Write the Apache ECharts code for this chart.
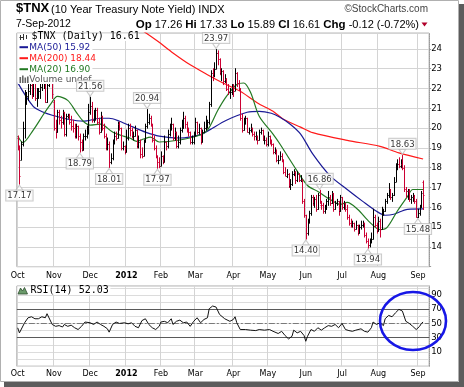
<!DOCTYPE html>
<html><head><meta charset="utf-8">
<script src="https://cdn.jsdelivr.net/npm/echarts@6/dist/echarts.min.js"></script>
<style>html,body{margin:0;padding:0;background:#fff}#c{width:464px;height:387px}</style>
</head><body><div id="c"></div>
<script>
// ---- trading calendar (Oct 3 2011 .. Sep 7 2012) ----
const holidays = ['2011-11-24','2011-12-26','2012-01-02','2012-01-16','2012-02-20','2012-04-06','2012-05-28','2012-07-04','2012-09-03'];
const monthLabels = ['Oct','Nov','Dec','2012','Feb','Mar','Apr','May','Jun','Jul','Aug','Sep'];
const priceTicks = [14,15,16,17,18,19,20,21,22,23,24];
const rsiTicks = [10,30,50,70,90];

// ---- daily OHLC ($TNX x10) ----
const opens = [
 19.5,19.0,18.4,19.2,20.0,21.5,21.6,21.9,22.2,21.7,22.4,21.5,21.8,21.9,22.1,22.3,22.4,21.3,22.2,23.9,22.9,
 21.3,20.0,19.8,20.8,20.4,20.3,20.8,19.7,20.6,20.6,20.3,20.1,20.0,19.6,20.1,19.6,19.3,18.9,19.6,19.6,19.9,
 20.8,21.1,20.4,20.5,20.9,20.3,19.8,20.6,20.0,19.6,19.0,19.2,18.3,18.5,19.3,19.6,19.5,20.2,20.0,19.0,19.1,
 18.8,19.5,20.0,19.9,19.6,19.6,19.9,19.1,19.3,18.7,18.6,19.3,20.1,20.3,20.5,20.2,19.4,19.0,18.6,18.3,
 18.1,18.6,18.3,19.3,19.1,19.7,20.0,20.2,19.5,19.8,19.1,19.3,19.9,20.0,20.5,20.2,19.9,19.8,19.3,19.3,
 19.7,20.3,19.8,20.0,19.3,19.8,20.0,20.3,20.3,21.2,22.8,22.7,23.0,23.8,23.5,22.8,22.9,22.4,22.5,22.0,21.8,21.8,
 22.1,21.9,22.8,22.3,22.0,20.5,19.9,20.3,20.5,19.8,19.9,20.0,19.7,19.6,19.6,19.4,19.8,19.9,19.4,19.4,
 19.2,19.6,19.3,19.2,18.8,18.8,18.4,18.4,18.6,18.4,17.8,17.6,17.7,17.1,17.2,17.7,17.8,17.4,17.7,17.4,17.4,16.3,
 15.6,14.7,15.3,15.7,16.5,16.2,16.4,15.9,16.6,16.1,16.1,15.8,15.9,16.3,16.5,16.2,16.7,15.9,16.2,16.3,15.8,
 16.5,16.0,16.2,15.9,15.5,15.2,15.1,15.2,14.9,15.1,14.7,15.0,15.1,15.2,14.6,14.3,14.1,14.3,14.4,15.5,15.1,
 14.8,15.3,14.9,15.7,15.8,16.3,16.6,16.9,16.5,16.6,17.3,18.1,18.2,18.1,18.2,18.0,16.9,16.8,16.8,16.4,16.5,16.5,16.3,
 15.5,15.7,16.0,17.26];
const highs = [
 19.6,19.1,19.3,20.3,21.9,21.8,22.2,22.6,22.3,22.6,22.5,22.0,22.0,22.3,22.6,22.6,22.4,22.3,24.1,23.9,23.0,
 21.4,20.4,20.9,20.9,20.6,20.9,20.8,20.7,20.7,20.7,20.6,20.4,20.2,20.2,20.1,19.7,19.4,19.7,19.9,20.1,21.2,
 21.56,21.3,20.9,21.0,21.0,20.5,20.8,20.6,20.2,19.7,19.5,19.3,18.7,19.4,19.8,19.8,20.3,20.3,20.0,19.3,19.1,
 19.9,20.2,20.2,20.0,19.8,20.1,19.9,19.6,19.4,19.0,19.4,20.2,20.94,20.7,20.6,20.2,19.6,19.1,18.6,18.5,
 18.8,18.6,19.6,19.3,19.9,20.2,20.5,20.2,20.0,19.8,19.6,20.0,20.4,20.8,20.6,20.3,20.0,19.8,19.6,19.8,
 20.5,20.3,20.2,20.0,19.9,20.3,20.6,20.4,21.3,22.9,23.0,23.3,23.97,23.9,23.5,23.0,22.9,22.7,22.5,22.2,22.0,22.2,
 22.2,23.0,22.8,22.4,22.0,20.7,20.5,20.6,20.5,20.0,20.2,20.0,19.8,19.8,19.6,19.9,20.0,19.9,19.6,19.5,
 19.8,19.6,19.4,19.2,19.0,18.9,18.6,18.8,18.7,18.4,18.0,17.9,17.7,17.4,17.8,17.9,17.8,17.8,17.7,17.6,17.4,16.4,
 15.6,15.4,15.8,16.6,16.6,16.5,16.6,16.7,16.86,16.3,16.2,16.1,16.4,16.8,16.6,16.8,16.7,16.3,16.4,16.3,16.6,
 16.5,16.3,16.2,16.1,15.6,15.4,15.3,15.2,15.3,15.1,15.1,15.3,15.3,15.2,14.7,14.4,14.4,14.7,15.9,15.6,15.2,
 15.5,15.4,16.0,15.9,16.4,16.7,17.2,16.9,16.7,17.5,18.2,18.4,18.5,18.4,18.63,18.1,17.0,16.9,16.9,16.6,16.7,16.6,16.4,
 15.9,16.1,16.8,17.33];
const lows = [
 18.9,17.17,18.4,19.1,19.5,21.2,21.4,21.7,21.5,21.6,21.4,21.1,21.5,21.5,21.9,22.0,21.3,21.3,22.1,23.1,21.5,
 19.9,19.5,19.8,20.2,20.0,20.2,19.6,19.6,20.5,20.2,19.9,19.8,19.5,19.5,19.4,18.79,18.85,18.9,19.4,19.5,19.7,
 20.7,20.3,20.3,20.4,20.2,19.7,19.8,19.9,19.5,18.9,18.9,18.01,18.2,18.4,19.2,19.4,19.5,19.9,18.9,18.9,18.7,
 18.8,19.4,19.6,19.5,19.4,19.6,19.0,19.0,18.5,18.5,18.6,19.3,20.0,20.2,20.1,19.3,18.9,18.5,17.97,18.0,
 18.1,18.2,18.3,18.9,19.0,19.6,19.9,19.4,19.4,19.0,19.0,19.2,19.8,20.0,20.0,19.8,19.6,19.2,19.2,19.2,
 19.6,19.7,19.7,19.2,19.3,19.8,19.9,20.0,20.2,21.1,22.4,22.6,23.0,23.2,22.7,22.4,22.2,22.3,21.9,21.7,21.5,21.7,
 21.6,21.9,22.1,21.9,20.4,19.8,19.9,20.2,19.8,19.7,19.8,19.6,19.4,19.4,19.2,19.4,19.7,19.4,19.2,19.1,
 19.1,19.2,19.1,18.7,18.7,18.3,18.2,18.4,18.3,17.7,17.6,17.5,17.0,16.9,17.1,17.6,17.2,17.3,17.3,17.3,16.2,15.5,
 14.40,14.6,15.2,15.6,16.1,16.0,15.8,15.9,16.2,15.9,15.7,15.7,15.9,16.1,16.1,16.2,15.8,15.9,16.1,15.6,15.8,
 15.9,15.9,15.8,15.4,15.1,15.0,15.0,14.8,14.9,14.6,14.7,14.9,15.0,14.5,14.2,13.94,14.0,14.2,14.4,15.0,14.7,
 14.8,14.5,14.9,15.6,15.8,16.2,16.5,16.4,16.3,16.6,17.3,17.9,18.0,18.0,17.9,16.8,16.5,16.4,16.3,16.2,16.3,16.2,15.5,
 15.48,15.6,16.0,15.89];
const closes = [
 19.0,17.6,19.2,20.0,21.5,21.6,21.9,22.2,21.7,22.5,21.5,21.8,21.9,22.1,22.3,22.4,21.3,22.2,23.9,23.3,21.7,
 20.0,19.8,20.8,20.4,20.3,20.8,19.7,20.6,20.6,20.3,20.1,20.0,19.6,20.1,19.6,19.3,18.9,19.6,19.6,19.9,20.8,
 21.1,20.4,20.5,20.9,20.3,19.8,20.6,20.0,19.6,19.0,19.2,18.3,18.5,19.3,19.6,19.5,20.2,20.0,19.0,19.1,18.8,
 19.5,20.0,19.9,19.6,19.6,19.9,19.1,19.3,18.7,18.6,19.3,20.1,20.3,20.5,20.2,19.4,19.0,18.6,18.3,18.1,
 18.6,18.3,19.3,19.1,19.7,20.0,20.2,19.5,19.8,19.1,19.3,19.9,20.0,20.5,20.2,19.9,19.8,19.3,19.3,19.7,
 20.3,19.8,20.0,19.3,19.8,20.0,20.3,20.3,21.2,22.8,22.7,23.0,23.8,23.5,22.8,22.9,22.4,22.5,22.0,21.8,21.8,22.1,
 21.9,22.8,22.3,22.0,20.5,19.9,20.3,20.5,19.8,19.9,20.0,19.7,19.6,19.6,19.4,19.8,19.9,19.4,19.4,19.2,
 19.6,19.3,19.2,18.8,18.8,18.4,18.4,18.6,18.4,17.8,17.6,17.7,17.1,17.2,17.7,17.8,17.4,17.7,17.4,17.4,16.3,15.6,
 14.7,15.3,15.7,16.5,16.2,16.4,15.9,16.6,16.3,16.1,15.8,15.9,16.3,16.5,16.2,16.7,15.9,16.2,16.3,15.8,16.5,
 16.0,16.2,15.9,15.5,15.2,15.1,15.2,14.9,15.1,14.7,15.0,15.1,15.2,14.6,14.3,14.1,14.3,14.4,15.5,15.1,14.8,
 15.3,14.9,15.7,15.8,16.3,16.6,16.9,16.5,16.6,17.3,18.1,18.2,18.1,18.2,18.0,16.9,16.8,16.8,16.4,16.5,16.5,16.3,15.5,
 15.7,16.0,16.73,16.61];
const prevClose = 19.2;

// ---- moving averages: [day index, value] ----
const ma50 = [[0,22.3],[9,21.1],[15,20.8],[20,20.65],[29,20.45],[38,20.35],[48,20.5],[53,20.5],[59,20.35],[67,20.05],[74,19.8],[82,19.6],[94,19.5],[106,19.67],[111,19.9],[121,20.4],[133,20.8],[140,20.85],[147,20.75],[152,20.55],[158,20.2],[164,19.7],[171,18.7],[181,17.6],[191,16.9],[200,16.3],[208,15.8],[213,15.6],[218,15.65],[226,15.9],[235,15.92]];
const ma200 = [[55,25.9],[65,25.3],[71,25.0],[81,24.4],[90,23.8],[100,23.2],[110,22.7],[119,22.28],[129,21.86],[139,21.27],[148,20.85],[154,20.45],[164,20.05],[171,19.77],[191,19.38],[210,19.08],[221,18.75],[235,18.44]];
const ma20 = [[0,19.6],[3,19.27],[9,19.9],[15,20.7],[19,21.2],[23,21.6],[29,21.4],[34,20.8],[38,20.35],[42,20.15],[48,20.2],[55,19.8],[61,19.6],[65,19.5],[69,19.33],[73,19.45],[77,19.55],[82,19.3],[94,19.4],[104,19.6],[110,19.9],[116,20.9],[121,21.6],[127,22.2],[131,22.28],[135,21.8],[140,20.6],[148,19.7],[152,19.2],[160,18.1],[168,17.1],[174,16.8],[181,16.4],[187,16.15],[191,16.25],[197,15.9],[204,15.25],[210,14.87],[214,14.97],[220,15.8],[226,16.55],[229,16.9],[235,16.9]];

// ---- RSI(14) ----
const rsiIdx = [0,1,2,4,6,8,10,12,14,16,17,18,20,22,24,26,27,29,31,33,35,37,39,40,42,44,46,48,50,52,53,55,57,59,62,64,66,68,70,72,74,76,78,80,82,83,85,87,89,90,92,94,96,98,100,102,104,106,108,110,111,113,115,117,120,123,125,126,127,129,132,135,138,140,143,146,148,151,153,155,157,159,160,162,164,166,167,168,170,172,174,176,178,180,182,184,186,188,190,192,194,196,197,199,201,203,205,206,208,210,212,213,215,217,219,221,223,224,225,227,229,230,231,232,233,234,235];
const rsiVal = [43.9,36.8,39,51,58,59.4,56.6,56.6,59.4,58,63.7,64,48.6,46,47,45,48.6,46,47.6,44,41.5,46,52,54,51,48.6,52,48.6,46,42.5,37.8,48.6,52,50,51,49.5,51,46,44,54,56.6,48.6,44,41.5,46,52,53,51,56.6,48.6,53,54.7,51,52,46,53,58,51,55.6,58,70.7,74.5,73,62.7,56.6,53,55.6,59.4,51,41.5,41.5,40.6,40,41.5,40.6,41.5,39,35.9,39,33,28.3,32,40.6,36.8,39,33,25,32,41.5,39,44,40.6,44,47,46,48.6,44,50,41.5,40,39,40.6,39,42.5,39,37.8,44,52,48.6,51,47,56.6,61.3,59.4,65,69.8,67.4,65,53,50,46,48.6,41.5,44,46,50,52.03];

// ---- labelled extremes ----
const peakIdx = [42,75,115,175,223];
const peakVal = [21.56,20.94,23.97,16.86,18.63];
const troughIdx = [1,36,53,81,167,203,232];
const troughVal = [17.17,18.79,18.01,17.97,14.40,13.94,15.48];

// ---------------------------------------------------------------
function buildDates(){
  const out=[]; const d=new Date(Date.UTC(2011,9,3)); const end=Date.UTC(2012,8,7);
  while(d.getTime()<=end){
    const wd=d.getUTCDay(); const s=d.toISOString().slice(0,10);
    if(wd!==0&&wd!==6&&holidays.indexOf(s)<0) out.push(s);
    d.setUTCDate(d.getUTCDate()+1);
  }
  return out;
}
const dates = buildDates();
const cats = dates.concat(['_a','_b','_c']);
const monthStart = {}; let mi = 0;
dates.forEach((s,i)=>{ if(i===0 || s.slice(5,7)!==dates[i-1].slice(5,7)) { monthStart[i]=monthLabels[mi++]; } });
const isStart = (i)=> monthStart[i]!==undefined;

const RED='#cc0033', BLACK='#000000';
const barData = closes.map((c,i)=>[i, opens[i], highs[i], lows[i], c, c < (i? closes[i-1]:prevClose) ? 1:0]);

const FONT='DejaVu Sans';
const L=16.84, W=412.3;

function xAxisCfg(gi){
  return {type:'category', gridIndex:gi, data:cats, boundaryGap:true,
    axisLine:{show:false}, axisTick:{show:false},
    axisLabel:{show:true, interval:(i)=>isStart(i), margin: gi===0?5:4,
      formatter:(v,i)=>{const t=monthStart[i]; if(t===undefined) return ''; return t==='2012'?'{b|2012}':t;},
      fontFamily:FONT, fontSize:8, color:'#000', rich:{b:{fontFamily:FONT,fontSize:8,fontWeight:'bold',color:'#000'}}},
    splitLine:{show:true, interval:(i)=>isStart(i), lineStyle:{color:'#d4d4d4',width:1}}};
}

const annLabel = {show:true, fontFamily:FONT, fontSize:8.5, color:'#000', backgroundColor:'#fff', borderColor:'#bdbdbd', borderWidth:1, padding:[1,1,0,1], lineHeight:9};

const option = {
  animation:false,
  grid:[
    {left:L, top:33.1, width:W, height:233.6, show:true, borderColor:'#a8a8a8', borderWidth:1, containLabel:false, outerBoundsMode:'none'},
    {left:L, top:286, width:W, height:80.2, show:true, borderColor:'#a8a8a8', borderWidth:1, containLabel:false, outerBoundsMode:'none'}
  ],
  xAxis:[xAxisCfg(0), xAxisCfg(1)],
  yAxis:[
    {type:'value', gridIndex:0, position:'right', min:13, max:24.8, interval:1,
     axisLine:{show:true, lineStyle:{color:'#9a9a9a', type:'dotted'}},
     axisTick:{show:true, length:2, lineStyle:{color:'#9a9a9a'}},
     axisLabel:{margin:2, fontFamily:FONT, fontSize:8.5, color:'#000', showMaxLabel:false,
       formatter:(v)=> priceTicks.indexOf(Math.round(v))>=0 && Math.abs(v-Math.round(v))<1e-6 ? String(Math.round(v)) : ''},
     splitLine:{show:true, lineStyle:{color:'#d4d4d4',width:1}}},
    {type:'value', gridIndex:1, position:'right', min:-10, max:102.6, interval:10,
     axisLine:{show:true, lineStyle:{color:'#9a9a9a', type:'dotted'}},
     axisTick:{show:false},
     axisLabel:{margin:2, fontFamily:FONT, fontSize:8.5, color:'#000', showMaxLabel:false,
       formatter:(v)=> rsiTicks.indexOf(Math.round(v))>=0 ? String(Math.round(v)) : ''},
     splitLine:{show:true, lineStyle:{color:'#dcdcdc',width:1}}}
  ],
  series:[
    {type:'line', name:'MA200', xAxisIndex:0, yAxisIndex:0, data:ma200, showSymbol:false, symbol:'none', smooth:0.3, clip:true, lineStyle:{color:'#ff1a1a', width:1.2}, z:3},
    {type:'line', name:'MA50', xAxisIndex:0, yAxisIndex:0, data:ma50, showSymbol:false, symbol:'none', smooth:0.3, clip:true, lineStyle:{color:'#1a1a96', width:1.2}, z:3},
    {type:'line', name:'MA20', xAxisIndex:0, yAxisIndex:0, data:ma20, showSymbol:false, symbol:'none', smooth:0.3, clip:true, lineStyle:{color:'#237a23', width:1.2}, z:3},
    {type:'custom', name:'TNX', xAxisIndex:0, yAxisIndex:0, data:barData, encode:{x:0, y:[1,2,3,4]}, clip:true, z:4,
     renderItem:function(params, api){
       const i=api.value(0);
       const o=api.coord([i,api.value(1)]), h=api.coord([i,api.value(2)]), l=api.coord([i,api.value(3)]), c=api.coord([i,api.value(4)]);
       const x=Math.round(h[0])+0.5; const st={stroke: api.value(5)?RED:BLACK, lineWidth:1};
       const yo=Math.round(o[1])+0.5, yc=Math.round(c[1])+0.5;
       return {type:'group', children:[
         {type:'line', shape:{x1:x,y1:h[1]-0.5,x2:x,y2:l[1]+0.5}, style:st},
         {type:'line', shape:{x1:x-1,y1:yo,x2:x,y2:yo}, style:st},
         {type:'line', shape:{x1:x,y1:yc,x2:x+1,y2:yc}, style:st}]};
     }},
    {type:'scatter', name:'peaks', xAxisIndex:0, yAxisIndex:0, data:peakIdx.map((k,j)=>[k,peakVal[j]]),
     symbol:'triangle', symbolRotate:180, symbolSize:[7,5], symbolOffset:[0,-3.5], z:120,
     itemStyle:{color:'#fff', borderColor:'#bdbdbd', borderWidth:1},
     label:Object.assign({position:'top', distance:0, formatter:(p)=>p.value[1].toFixed(2)}, annLabel)},
    {type:'scatter', name:'troughs', xAxisIndex:0, yAxisIndex:0, data:troughIdx.map((k,j)=>[k,troughVal[j]]),
     symbol:'triangle', symbolSize:[7,5], symbolOffset:[0,3.5], z:120,
     itemStyle:{color:'#fff', borderColor:'#bdbdbd', borderWidth:1},
     label:Object.assign({position:'bottom', distance:0, formatter:(p)=>p.value[1].toFixed(2)}, annLabel)},
    {type:'line', name:'RSI', xAxisIndex:1, yAxisIndex:1, data:rsiIdx.map((k,j)=>[k,rsiVal[j]]), showSymbol:false, symbol:'none', clip:true,
     lineStyle:{color:'#111', width:1}, z:5,
     markLine:{silent:true, symbol:'none', label:{show:false}, animation:false,
       data:[{yAxis:70, lineStyle:{color:'#5a5a5a', type:'solid', width:1}},
             {yAxis:30, lineStyle:{color:'#5a5a5a', type:'solid', width:1}},
             {yAxis:50, lineStyle:{color:'#7a7a7a', type:[6,2,2,2], width:1}}]}}
  ],
  graphic:[
    // outer frame + shadow
    {type:'rect', z:90, shape:{x:459,y:4,width:5,height:383}, style:{fill:'#5c5c5c'}},
    {type:'rect', z:90, shape:{x:4,y:382,width:460,height:5}, style:{fill:'#5c5c5c'}},
    {type:'rect', z:91, shape:{x:0.5,y:0.5,width:458,height:381}, style:{fill:null, stroke:'#b0b0b0', lineWidth:1}},
    // header
    {type:'text', z:100, x:16, y:2, style:{text:'$TNX', font:'bold 13px "Liberation Sans"', fill:'#000'}},
    {type:'text', z:100, x:51, y:4, style:{text:'(10 Year Treasury Note Yield) INDX', font:'11px "Liberation Sans"', fill:'#000'}},
    {type:'text', z:100, x:428, y:4, style:{text:'\u00A9StockCharts.com', font:'10px "Liberation Sans"', fill:'#444', align:'right'}},
    {type:'text', z:100, x:16, y:19, style:{text:'7-Sep-2012', font:'10.5px "Liberation Sans"', fill:'#000'}},
    {type:'text', z:100, x:419, y:19, style:{align:'right',
      text:'{b|Op} 17.26 {b|Hi} 17.33 {b|Lo} 15.89 {b|Cl} 16.61 {b|Chg} -0.12 (-0.72%)',
      font:'11px "Liberation Sans"', fill:'#000',
      rich:{b:{font:'bold 11.5px "Liberation Sans"', fill:'#000'}}}},
    {type:'polygon', z:100, shape:{points:[[421.5,22.5],[427.5,22.5],[424.5,26.5]]}, style:{fill:'#b0002a'}},
    // price legend
    {type:'rect', z:100, shape:{x:17.4,y:33.6,width:75,height:50.5}, style:{fill:'#fff'}},
    {type:'rect', z:100, shape:{x:92,y:33.6,width:47,height:7.5}, style:{fill:'#fff'}},
    {type:'polyline', z:101, shape:{points:[[20.5,35],[20.5,40]]}, style:{stroke:'#333',lineWidth:1}},
    {type:'polyline', z:101, shape:{points:[[23.5,34],[23.5,40]]}, style:{stroke:'#333',lineWidth:1}},
    {type:'polyline', z:101, shape:{points:[[26.5,35],[26.5,39]]}, style:{stroke:'#333',lineWidth:1}},
    {type:'polyline', z:101, shape:{points:[[19.5,37.5],[23.5,37.5]]}, style:{stroke:'#333',lineWidth:1}},
    {type:'text', z:101, x:31.5, y:36.8, style:{text:'$TNX (Daily) 16.61', font:'10px "DejaVu Sans Mono"', fill:'#000', verticalAlign:'middle'}},
    {type:'rect', z:101, shape:{x:19.5,y:46.2,width:8.5,height:2}, style:{fill:'#1a1a96'}},
    {type:'text', z:101, x:29.3, y:47.2, style:{text:'MA(50) 15.92', font:'9px "DejaVu Sans"', fill:'#1a1a96', verticalAlign:'middle'}},
    {type:'rect', z:101, shape:{x:19.5,y:57.2,width:8.5,height:2}, style:{fill:'#ff1a1a'}},
    {type:'text', z:101, x:29.3, y:58.2, style:{text:'MA(200) 18.44', font:'9px "DejaVu Sans"', fill:'#ff1a1a', verticalAlign:'middle'}},
    {type:'rect', z:101, shape:{x:19.5,y:68.2,width:8.5,height:2}, style:{fill:'#237a23'}},
    {type:'text', z:101, x:29.3, y:69.2, style:{text:'MA(20) 16.90', font:'9px "DejaVu Sans"', fill:'#237a23', verticalAlign:'middle'}},
    {type:'rect', z:101, shape:{x:19.5,y:77,width:1.6,height:6}, style:{fill:'#666'}},
    {type:'rect', z:101, shape:{x:22,y:75.5,width:1.6,height:7.5}, style:{fill:'#666'}},
    {type:'rect', z:101, shape:{x:24.5,y:77.5,width:1.6,height:5.5}, style:{fill:'#666'}},
    {type:'rect', z:101, shape:{x:27,y:76.5,width:1.6,height:6.5}, style:{fill:'#666'}},
    {type:'text', z:101, x:29.3, y:79.6, style:{text:'Volume undef', font:'9px "DejaVu Sans"', fill:'#555', verticalAlign:'middle'}},
    // RSI legend
    {type:'rect', z:100, shape:{x:17.4,y:286.6,width:93,height:8}, style:{fill:'#fff'}},
    {type:'polygon', z:101, shape:{points:[[18,294],[20.5,288],[22.5,291],[24.5,287.5],[27.5,294]]}, style:{fill:'#6a9a6a', stroke:'#2d4d2d', lineWidth:0.8}},
    {type:'text', z:101, x:30.5, y:290.6, style:{text:'RSI(14) 52.03', font:'10px "DejaVu Sans Mono"', fill:'#000', verticalAlign:'middle'}},
    // blue circle annotation
    {type:'ellipse', z:130, shape:{cx:413, cy:321, rx:33, ry:29}, style:{fill:null, stroke:'#1717e6', lineWidth:2.6}}
  ]
};
const chart = echarts.init(document.getElementById('c'), null, {renderer:'canvas', width:464, height:387});
chart.setOption(option);
</script></body></html>
